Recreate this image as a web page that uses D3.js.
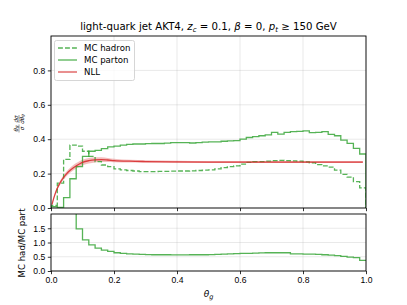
<!DOCTYPE html>
<html>
<head>
<meta charset="utf-8">
<script src="https://cdn.jsdelivr.net/npm/d3@7"></script>
<style>
  html, body { margin: 0; padding: 0; background: #fff; }
  svg { display: block; font-family: "DejaVu Sans", sans-serif; }
  .tick text { font-size: 8.6px; fill: #000; }
  .tick line { stroke: #000; stroke-width: 0.8; }
</style>
</head>
<body>
<div id="chart"></div>
<script>
// bin edges are 0.00, 0.02, ... 1.00 (50 bins)
const BIN_W = 0.02;

const mcHadron = [
  0.015, 0.145, 0.283, 0.366, 0.360, 0.330, 0.300, 0.270, 0.250, 0.240,
  0.228, 0.222, 0.218, 0.215, 0.212, 0.212, 0.212, 0.213, 0.213, 0.214,
  0.215, 0.215, 0.216, 0.218, 0.220, 0.222, 0.228, 0.235, 0.240, 0.245,
  0.255, 0.265, 0.270, 0.270, 0.272, 0.275, 0.277, 0.276, 0.274, 0.272,
  0.268, 0.262, 0.252, 0.245, 0.238, 0.220, 0.196, 0.180, 0.153, 0.117
];

const mcParton = [
  0.008, 0.004, 0.060, 0.170, 0.240, 0.300, 0.330, 0.335, 0.345, 0.355,
  0.360, 0.365, 0.370, 0.372, 0.372, 0.374, 0.375, 0.375, 0.377, 0.380,
  0.380, 0.380, 0.378, 0.380, 0.383, 0.385, 0.385, 0.388, 0.390, 0.392,
  0.400, 0.410, 0.415, 0.420, 0.425, 0.440, 0.430, 0.440, 0.444, 0.446,
  0.448, 0.438, 0.440, 0.444, 0.428, 0.420, 0.395, 0.376, 0.347, 0.314
];

const hadOverPart = [
  2.50, 25.0, 4.70, 2.15, 1.48, 1.09, 0.92, 0.80, 0.73, 0.69,
  0.64, 0.62, 0.60, 0.59, 0.58, 0.575, 0.57, 0.57, 0.57, 0.565,
  0.565, 0.565, 0.57, 0.57, 0.57, 0.575, 0.58, 0.59, 0.60, 0.61,
  0.62, 0.62, 0.63, 0.635, 0.64, 0.64, 0.64, 0.64, 0.60, 0.60,
  0.59, 0.59, 0.58, 0.57, 0.555, 0.54, 0.51, 0.49, 0.47, 0.37
];

const nllTheta = [0.003, 0.01, 0.02, 0.03, 0.04, 0.05, 0.06, 0.07, 0.08, 0.09, 0.10, 0.12,
                  0.14, 0.16, 0.18, 0.20, 0.25, 0.30, 0.40, 0.50, 0.60, 0.70, 0.80, 0.90, 0.99];
const nll      = [0.020, 0.065, 0.115, 0.150, 0.178, 0.200, 0.218, 0.233, 0.245, 0.256, 0.265, 0.275,
                  0.280, 0.281, 0.279, 0.276, 0.272, 0.270, 0.268, 0.267, 0.267, 0.267, 0.267, 0.267, 0.267];
const nllLo    = [0.017, 0.059, 0.105, 0.138, 0.165, 0.186, 0.203, 0.218, 0.229, 0.240, 0.249, 0.259,
                  0.265, 0.267, 0.267, 0.266, 0.264, 0.263, 0.262, 0.261, 0.261, 0.261, 0.261, 0.261, 0.261];
const nllHi    = [0.023, 0.071, 0.125, 0.162, 0.191, 0.214, 0.233, 0.248, 0.261, 0.272, 0.281, 0.291,
                  0.295, 0.295, 0.291, 0.286, 0.280, 0.277, 0.274, 0.273, 0.273, 0.273, 0.273, 0.273, 0.273];

const xTicks = [0, 0.2, 0.4, 0.6, 0.8, 1.0];
const yTicksMain = [0, 0.2, 0.4, 0.6, 0.8];
const yTicksRatio = [0, 0.5, 1.0, 1.5];

const GREEN = '#2ca02c';
const RED = '#d62728';

const W = 407, H = 305;
const L = 51, R = 366;
const MAIN = { top: 36, bottom: 208 };
const LOW = { top: 214, bottom: 271 };

const svg = d3.select('#chart').append('svg').attr('width', W).attr('height', H);

const x = d3.scaleLinear().domain([0, 1]).range([L, R]);
const yMain = d3.scaleLinear().domain([0, 1.0]).range([MAIN.bottom, MAIN.top]);
const yLow = d3.scaleLinear().domain([0, 2.0]).range([LOW.bottom, LOW.top]);

const defs = svg.append('defs');
defs.append('clipPath').attr('id', 'clip-main').append('rect')
  .attr('x', L).attr('y', MAIN.top).attr('width', R - L).attr('height', MAIN.bottom - MAIN.top);
defs.append('clipPath').attr('id', 'clip-low').append('rect')
  .attr('x', L).attr('y', LOW.top).attr('width', R - L).attr('height', LOW.bottom - LOW.top);

// step path for a histogram, closed to the baseline like histtype='step'
function histPoints(vals, withBase) {
  const pts = [];
  if (withBase) pts.push([0, 0]);
  vals.forEach((v, i) => { pts.push([i * BIN_W, v]); pts.push([(i + 1) * BIN_W, v]); });
  if (withBase) pts.push([vals.length * BIN_W, 0]);
  return pts;
}

function gridAndAxes(y, yTicks, box, showXLabels) {
  const g = svg.append('g');
  // gridlines
  g.selectAll('.gx').data(xTicks).join('line')
    .attr('x1', d => x(d)).attr('x2', d => x(d))
    .attr('y1', box.top).attr('y2', box.bottom)
    .attr('stroke', '#b0b0b0').attr('stroke-opacity', 0.35).attr('stroke-width', 0.8);
  g.selectAll('.gy').data(yTicks).join('line')
    .attr('x1', L).attr('x2', R)
    .attr('y1', d => y(d)).attr('y2', d => y(d))
    .attr('stroke', '#b0b0b0').attr('stroke-opacity', 0.35).attr('stroke-width', 0.8);

  svg.append('g').attr('transform', `translate(0,${box.bottom})`)
    .call(d3.axisBottom(x).tickValues(xTicks).tickSize(3.2).tickPadding(2.5)
      .tickFormat(showXLabels ? d3.format('.1f') : ''))
    .call(a => a.select('.domain').remove());
  svg.append('g').attr('transform', `translate(${L},0)`)
    .call(d3.axisLeft(y).tickValues(yTicks).tickSize(3.2).tickPadding(2.5).tickFormat(d3.format('.1f')))
    .call(a => a.select('.domain').remove());
}

gridAndAxes(yMain, yTicksMain, MAIN, false);
gridAndAxes(yLow, yTicksRatio, LOW, true);

const line = yS => d3.line().x(d => x(d[0])).y(d => yS(d[1]));

// main panel
const gm = svg.append('g').attr('clip-path', 'url(#clip-main)');

gm.append('path')
  .datum(nllTheta.map((t, i) => [t, nllLo[i], nllHi[i]]))
  .attr('d', d3.area().x(d => x(d[0])).y0(d => yMain(d[1])).y1(d => yMain(d[2])).curve(d3.curveMonotoneX))
  .attr('fill', RED).attr('fill-opacity', 0.3);

gm.append('path').datum(histPoints(mcHadron, true))
  .attr('d', line(yMain)).attr('fill', 'none')
  .attr('stroke', GREEN).attr('stroke-opacity', 0.8).attr('stroke-width', 1.3)
  .attr('stroke-dasharray', '4.9,2.1');

gm.append('path').datum(histPoints(mcParton, true))
  .attr('d', line(yMain)).attr('fill', 'none')
  .attr('stroke', GREEN).attr('stroke-opacity', 0.8).attr('stroke-width', 1.3);

gm.append('path').datum(nllTheta.map((t, i) => [t, nll[i]]))
  .attr('d', line(yMain).curve(d3.curveMonotoneX)).attr('fill', 'none')
  .attr('stroke', RED).attr('stroke-opacity', 0.85).attr('stroke-width', 1.3);

// ratio panel
const gl = svg.append('g').attr('clip-path', 'url(#clip-low)');
gl.append('path').datum(histPoints(hadOverPart, false))
  .attr('d', line(yLow)).attr('fill', 'none')
  .attr('stroke', GREEN).attr('stroke-opacity', 0.8).attr('stroke-width', 1.3);

// frames
[MAIN, LOW].forEach(b => {
  svg.append('rect').attr('x', L).attr('y', b.top).attr('width', R - L).attr('height', b.bottom - b.top)
    .attr('fill', 'none').attr('stroke', '#000').attr('stroke-width', 0.9);
});

// legend
const leg = svg.append('g');
leg.append('rect').attr('x', 54.5).attr('y', 40.5).attr('width', 80).attr('height', 40).attr('rx', 2)
  .attr('fill', '#fff').attr('fill-opacity', 0.8).attr('stroke', '#ccc').attr('stroke-width', 0.8);
const legItems = [
  { label: 'MC hadron', color: GREEN, dash: '4.9,2.1' },
  { label: 'MC parton', color: GREEN, dash: null },
  { label: 'NLL', color: RED, dash: null }
];
legItems.forEach((it, i) => {
  const yy = 48 + i * 12;
  leg.append('line').attr('x1', 58).attr('x2', 77).attr('y1', yy).attr('y2', yy)
    .attr('stroke', it.color).attr('stroke-opacity', 0.8).attr('stroke-width', 1.3)
    .attr('stroke-dasharray', it.dash);
  leg.append('text').attr('x', 84).attr('y', yy + 3).attr('font-size', 8.6).text(it.label);
});

// title
const title = svg.append('text').attr('x', (L + R) / 2).attr('y', 30)
  .attr('text-anchor', 'middle').attr('font-size', 10.2);
title.append('tspan').text('light-quark jet AKT4, ');
title.append('tspan').attr('font-style', 'italic').text('z');
title.append('tspan').attr('font-size', 7).attr('dy', 2).attr('font-style', 'italic').text('c');
title.append('tspan').attr('dy', -2).text(' = 0.1, ');
title.append('tspan').attr('font-style', 'italic').text('β');
title.append('tspan').text(' = 0, ');
title.append('tspan').attr('font-style', 'italic').text('p');
title.append('tspan').attr('font-size', 7).attr('dy', 2).attr('font-style', 'italic').text('t');
title.append('tspan').attr('dy', -2).text(' ≥ 150 GeV');

// x label
const xl = svg.append('text').attr('x', (L + R) / 2).attr('y', 297).attr('text-anchor', 'middle').attr('font-size', 9);
xl.append('tspan').attr('font-style', 'italic').text('θ');
xl.append('tspan').attr('font-size', 6.5).attr('dy', 2).attr('font-style', 'italic').text('g');

// lower y label
svg.append('text').attr('transform', `translate(25,243) rotate(-90)`)
  .attr('text-anchor', 'middle').attr('font-size', 8.6).text('MC had/MC part');

// main y label: (θg/σ)(dσ/dθg)
const yl = svg.append('g').attr('transform', 'translate(19,124) rotate(-90)').attr('font-size', 5.6);
function frac(g, cx, num, den) {
  const n = g.append('text').attr('x', cx).attr('y', -1.5).attr('text-anchor', 'middle');
  num(n);
  const d = g.append('text').attr('x', cx).attr('y', 5.2).attr('text-anchor', 'middle');
  den(d);
  g.append('line').attr('x1', cx - 4).attr('x2', cx + 4).attr('y1', 0).attr('y2', 0)
    .attr('stroke', '#000').attr('stroke-width', 0.4);
}
frac(yl, -4.5,
  t => { t.append('tspan').attr('font-style', 'italic').text('θ'); t.append('tspan').attr('font-size', 4).attr('font-style', 'italic').text('g'); },
  t => { t.append('tspan').attr('font-style', 'italic').text('σ'); });
frac(yl, 5,
  t => { t.append('tspan').attr('font-style', 'italic').text('dσ'); },
  t => { t.append('tspan').attr('font-style', 'italic').text('dθ'); t.append('tspan').attr('font-size', 4).attr('font-style', 'italic').text('g'); });
</script>
</body>
</html>
